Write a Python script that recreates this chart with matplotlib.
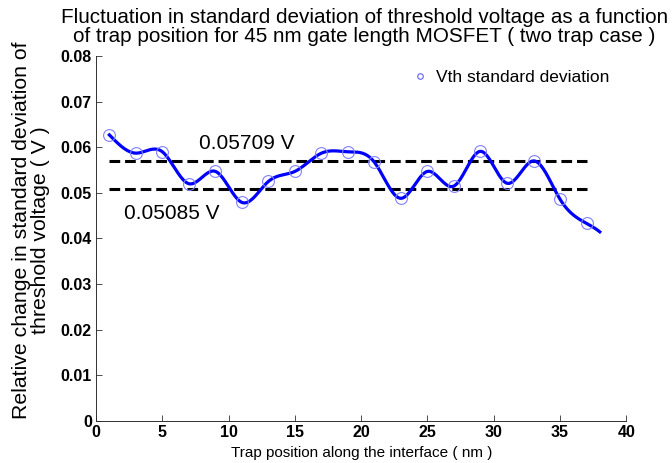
import numpy as np
import matplotlib
matplotlib.use("Agg")
import matplotlib.pyplot as plt
from matplotlib.lines import Line2D

plt.rcParams["font.family"] = ["Liberation Sans", "DejaVu Sans"]

# trap position (nm) and Vth standard deviation (V)
trap_pos = [1, 3, 5, 7, 9, 11, 13, 15, 17, 19, 21, 23, 25, 27, 29, 31, 33, 35, 37]
vth_std = [0.0627, 0.0587, 0.0590, 0.0520, 0.0547, 0.0479, 0.0525, 0.0547,
           0.0587, 0.0590, 0.0567, 0.0488, 0.0547, 0.0515, 0.0591, 0.0521,
           0.0570, 0.0486, 0.0433]
curve_end = 38
upper_level = 0.05709
lower_level = 0.05085


def natural_spline(x, y, xs):
    # plain natural cubic spline, evaluated on xs (last segment extended)
    x = np.asarray(x, float)
    y = np.asarray(y, float)
    n = len(x)
    h = np.diff(x)
    A = np.zeros((n, n))
    b = np.zeros(n)
    A[0, 0] = A[-1, -1] = 1
    for i in range(1, n - 1):
        A[i, i - 1] = h[i - 1]
        A[i, i] = 2 * (h[i - 1] + h[i])
        A[i, i + 1] = h[i]
        b[i] = 3 * ((y[i + 1] - y[i]) / h[i] - (y[i] - y[i - 1]) / h[i - 1])
    c = np.linalg.solve(A, b)
    bb = (y[1:] - y[:-1]) / h - h * (2 * c[:-1] + c[1:]) / 3
    d = (c[1:] - c[:-1]) / (3 * h)
    idx = np.clip(np.searchsorted(x, xs) - 1, 0, n - 2)
    dx = xs - x[idx]
    return y[idx] + bb[idx] * dx + c[idx] * dx ** 2 + d[idx] * dx ** 3


xs = np.linspace(trap_pos[0], curve_end, 400)
ys = natural_spline(trap_pos, vth_std, xs)

fig = plt.figure(figsize=(6.72, 4.63), dpi=100)
ax = fig.add_axes([0.143, 0.091, 0.789, 0.788])

ax.plot(xs, ys, color="#0000ff", linewidth=2.3, zorder=3)
ax.plot(trap_pos, vth_std, "o", markersize=8.5, markerfacecolor="none",
        markeredgecolor="#8080ff", markeredgewidth=0.8, zorder=4)
ax.plot([trap_pos[0], trap_pos[-1]], [upper_level, upper_level], "k--",
        linewidth=2.2, dashes=(3.5, 1.6), zorder=2)
ax.plot([trap_pos[0], trap_pos[-1]], [lower_level, lower_level], "k--",
        linewidth=2.2, dashes=(3.5, 1.6), zorder=2)

ax.text(7.8, 0.0596, f"{upper_level:.5f} V", fontsize=15)
ax.text(2.1, 0.0442, f"{lower_level:.5f} V", fontsize=15)

ax.set_xlim(0, 40)
ax.set_ylim(0, 0.08)
ax.set_xticks(range(0, 41, 5))
ax.set_yticks(np.arange(0, 0.081, 0.01))
ax.set_yticklabels(["0"] + [f"{v:.2f}" for v in np.arange(0.01, 0.081, 0.01)])
for lbl in ax.get_xticklabels() + ax.get_yticklabels():
    lbl.set_fontweight("bold")
    lbl.set_fontsize(11.5)
ax.tick_params(direction="in", length=4, width=0.6, pad=3, colors="#303030")
ax.tick_params(labelcolor="black")
ax.spines["top"].set_visible(False)
ax.spines["right"].set_visible(False)
for s in ("left", "bottom"):
    ax.spines[s].set_linewidth(0.7)
    ax.spines[s].set_color("#303030")

ax.set_xlabel("Trap position along the interface ( nm )", fontsize=11, labelpad=4)
ax.set_ylabel("Relative change in standard deviation of\nthreshold voltage ( V )",
              fontsize=15.3, linespacing=1.0)
ax.yaxis.set_label_coords(-0.087, 0.523)

fig.text(0.542, 1 - 8 / 463,
         "Fluctuation in standard deviation of threshold voltage as a function\n"
         "of trap position for 45 nm gate length MOSFET ( two trap case )",
         fontsize=14.9, ha="center", va="top", linespacing=1.0)

handle = Line2D([], [], linestyle="none", marker="o", markersize=4,
                markerfacecolor="none", markeredgecolor="#6060ff", markeredgewidth=0.8)
ax.legend([handle], ["Vth standard deviation"], loc="center left", frameon=False,
          fontsize=12.5, handlelength=1.0, handletextpad=0.4, borderpad=0,
          borderaxespad=0, bbox_to_anchor=(0.595, 0.94))

fig.savefig("out.png", dpi=100)
